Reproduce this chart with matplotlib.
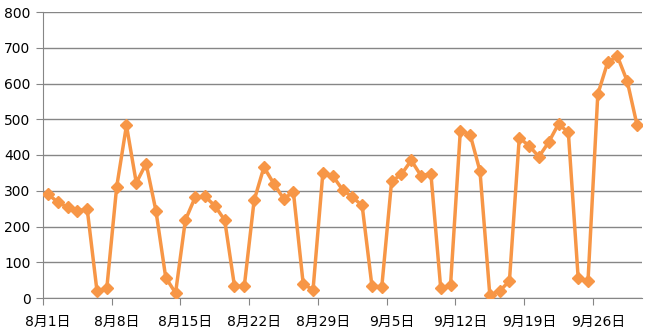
import matplotlib
matplotlib.use("Agg")
import matplotlib.pyplot as plt
import pandas as pd

plt.rcParams['font.family'] = ['DejaVu Sans', 'Noto Sans CJK SC']

dates = pd.date_range("2024-08-01", "2024-09-30", freq="D")
values = [291, 268, 254, 243, 249, 19, 28, 310, 483, 322, 376, 244, 57, 14,
          218, 282, 284, 258, 218, 33, 33, 273, 366, 320, 278, 296, 39, 23,
          350, 342, 303, 282, 259, 33, 31, 326, 346, 385, 342, 348, 28, 35,
          468, 457, 355, 9, 19, 48, 448, 426, 395, 436, 487, 463, 56, 47,
          570, 659, 676, 606, 483]
labels = [f"{d.month}月{d.day}日" for d in dates]
yticks = [0, 100, 200, 300, 400, 500, 600, 700, 800]

fig = plt.figure(figsize=(6.56, 3.36), dpi=100)
ax = fig.add_axes([43/656, 1-298/336, (642-43)/656, (298-12)/336])

x = list(range(len(values)))
ax.plot(x, values, color='#F79646', lw=2.5, marker='D', ms=6.5, zorder=3)

ax.set_xlim(-0.5, len(values) - 0.5)
ax.set_ylim(0, 800)
ax.set_yticks(yticks)
ax.set_yticklabels([str(v) for v in yticks], fontsize=10)
ax.yaxis.grid(True, color='#868686', lw=1)
ax.set_axisbelow(True)

ax.set_xticks([i - 0.5 for i in range(0, len(values), 7)])
ax.set_xticklabels([])
ax.set_xticks(list(range(0, len(values), 7)), minor=True)
ax.set_xticklabels([labels[i] for i in range(0, len(values), 7)], minor=True, fontsize=10)
ax.tick_params(axis='x', which='minor', length=0, pad=12)
ax.tick_params(axis='x', which='major', length=5, color='#868686')
ax.tick_params(axis='y', length=5, color='#868686', pad=4)

for s in ['top', 'right']:
    ax.spines[s].set_visible(False)
for s in ['left', 'bottom']:
    ax.spines[s].set_color('#868686')

fig.savefig("out.png", dpi=100)
